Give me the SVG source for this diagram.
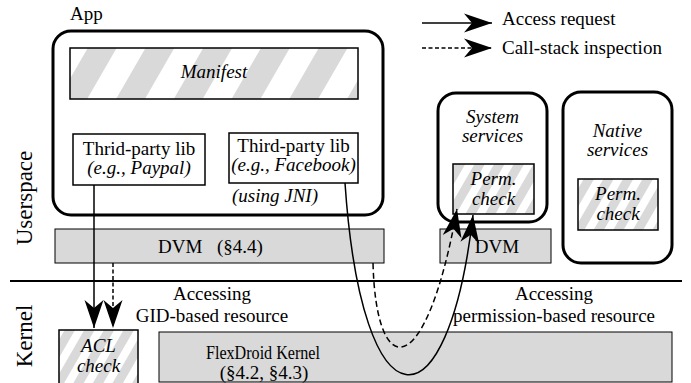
<svg xmlns="http://www.w3.org/2000/svg" width="691" height="383" viewBox="0 0 691 383">
<style>
text { font-family: "Liberation Serif", "Times New Roman", Times, "DejaVu Serif", serif; font-size: 19px; fill: #000; }
.it { font-style: italic; }
.mid { text-anchor: middle; }
.side { font-size: 23px; }
.round { fill: #fff; stroke: #000; stroke-width: 3; }
.box { fill: #fff; stroke: #000; stroke-width: 1.5; }
.gray { fill: #d9d9d9; stroke: #000; stroke-width: 1; }
.hatchL { fill: url(#hatchL); stroke: #000; stroke-width: 1.5; }
.hatchS { fill: url(#hatchS); stroke: #000; stroke-width: 1.5; }
.conn { fill: none; stroke: #000; stroke-width: 1.5; }
.dash { stroke-dasharray: 4 2.5; }
.dashc { stroke-dasharray: 6 3.5; }
</style>
<defs>
<pattern id="hatchL" width="50" height="50" patternUnits="userSpaceOnUse" patternTransform="rotate(30)">
<rect width="50" height="50" fill="#fff"/>
<rect width="25" height="50" fill="#d9d9d9"/>
</pattern>
<pattern id="hatchS" width="17" height="17" patternUnits="userSpaceOnUse" patternTransform="rotate(30)">
<rect width="17" height="17" fill="#fff"/>
<rect width="9" height="17" fill="#d9d9d9"/>
</pattern>
<marker id="ah" markerUnits="userSpaceOnUse" markerWidth="32" markerHeight="24" viewBox="-30 -12 32 24" refX="0" refY="0" orient="auto">
<path d="M0,0 L-28,-9.5 L-20,0 L-28,9.5 Z" fill="#000"/>
</marker>
</defs>

<g id="labels">
<text class="side" transform="translate(32,198) rotate(-90)" text-anchor="middle">Userspace</text>
<text class="side" transform="translate(32,336) rotate(-90)" text-anchor="middle">Kernel</text>
<line x1="10" y1="281" x2="682" y2="281" stroke="#000" stroke-width="2"/>
</g>

<g id="legend">
<line class="conn" x1="422" y1="23" x2="492" y2="23" marker-end="url(#ah)"/>
<text x="502" y="25">Access request</text>
<line class="conn dash" x1="422" y1="48" x2="492" y2="48" marker-end="url(#ah)"/>
<text x="502" y="54">Call-stack inspection</text>
</g>

<g id="app">
<text x="70" y="20">App</text>
<rect class="round" x="53" y="31" width="330" height="184" rx="18"/>
</g>
<g id="manifest">
<rect class="hatchL" x="70" y="48" width="288" height="51"/>
<text class="it mid" x="214" y="78">Manifest</text>
</g>
<g id="paypal">
<rect class="box" x="73" y="134" width="132" height="51"/>
<text class="mid" x="139" y="155">Thrid-party lib</text>
<text class="it mid" x="139" y="174">(e.g., Paypal)</text>
</g>
<g id="facebook">
<rect class="box" x="229" y="133" width="129" height="50"/>
<text class="mid" x="293.5" y="152">Third-party lib</text>
<text class="it mid" x="293.5" y="171">(e.g., Facebook)</text>
<text class="it" x="232" y="202">(using JNI)</text>
</g>
<g id="dvm-app">
<rect class="gray" x="55" y="229" width="329" height="34"/>
<text y="253"><tspan x="158">DVM</tspan><tspan x="217">(§4.4)</tspan></text>
</g>

<g id="system-services">
<rect class="round" x="438" y="93" width="109" height="129" rx="18"/>
<text class="it mid" x="492.5" y="123">System</text>
<text class="it mid" x="492.5" y="142">services</text>
</g>
<g id="perm-check-system">
<rect class="hatchS" x="453" y="164" width="81" height="50"/>
<text class="it mid" x="493.5" y="185">Perm.</text>
<text class="it mid" x="493.5" y="205">check</text>
</g>
<g id="dvm-system">
<rect class="gray" x="440" y="229" width="111" height="34"/>
<text class="mid" x="497" y="253">DVM</text>
</g>

<g id="native-services">
<rect class="round" x="563" y="92" width="109" height="171" rx="18"/>
<text class="it mid" x="617.5" y="137">Native</text>
<text class="it mid" x="617.5" y="156">services</text>
</g>
<g id="perm-check-native">
<rect class="hatchS" x="578" y="179" width="80" height="51"/>
<text class="it mid" x="618" y="200">Perm.</text>
<text class="it mid" x="618" y="220">check</text>
</g>

<g id="acl-check">
<rect class="hatchS" x="59" y="330" width="79" height="55"/>
<text class="it mid" x="98.5" y="352">ACL</text>
<text class="it mid" x="98.5" y="372">check</text>
</g>
<g id="flexdroid-kernel">
<rect class="gray" x="159" y="332" width="513" height="50"/>
<text x="206" y="359" textLength="114" lengthAdjust="spacingAndGlyphs">FlexDroid Kernel</text>
<text class="mid" x="264" y="379">(§4.2, §4.3)</text>
</g>

<g id="annotations">
<text class="mid" x="212" y="300">Accessing</text>
<text class="mid" x="212" y="322">GID-based resource</text>
<text class="mid" x="554" y="300">Accessing</text>
<text class="mid" x="554" y="322">permission-based resource</text>
</g>

<g id="connectors">
<line class="conn" x1="94" y1="185" x2="94" y2="328" marker-end="url(#ah)"/>
<line class="conn dash" x1="113" y1="263" x2="113" y2="328" marker-end="url(#ah)"/>
<path class="conn" d="M345,183 C362,433 448,433 473,215" marker-end="url(#ah)"/>
<path class="conn dashc" d="M373,263 C376,383 426,383 457,209" marker-end="url(#ah)"/>
</g>
</svg>
